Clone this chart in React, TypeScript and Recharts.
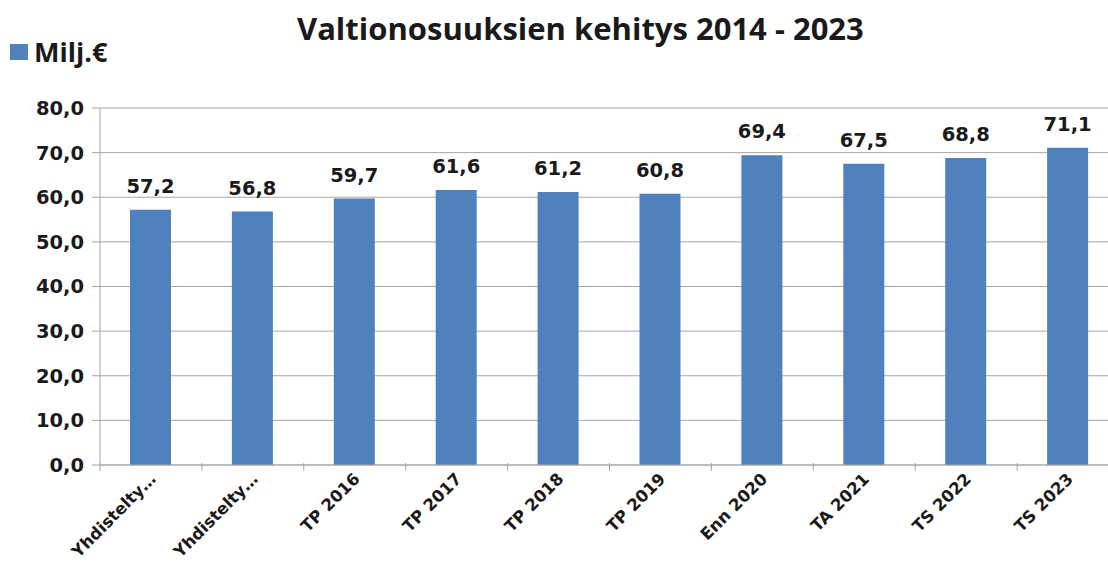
import React from "react";
import {
  BarChart,
  Bar,
  XAxis,
  YAxis,
  CartesianGrid,
  LabelList,
} from "recharts";

const categories = [
  "Yhdistelty…",
  "Yhdistelty…",
  "TP 2016",
  "TP 2017",
  "TP 2018",
  "TP 2019",
  "Enn 2020",
  "TA 2021",
  "TS 2022",
  "TS 2023",
];
const values = [57.2, 56.8, 59.7, 61.6, 61.2, 60.8, 69.4, 67.5, 68.8, 71.1];
const yTicks = [0, 10, 20, 30, 40, 50, 60, 70, 80];

const data = categories.map((c, i) => ({ name: c, value: values[i] }));

const TITLE_FONT = "'Open Sans', sans-serif";
const FONT = "'DejaVu Sans', sans-serif";
const BAR = "#4f81bd";
const GRID = "#a6a6a6";
const TEXT = "#1a1a1a";

const CHART_W = 1130;
const CHART_H = 569;
const MARGIN = { top: 108, right: 11, bottom: 0, left: 10 };
const Y_W = 90;
const X_H = 104;
const BAND = (CHART_W - MARGIN.left - MARGIN.right - Y_W) / categories.length;

const fmt = (v: number) => v.toFixed(1).replace(".", ",");

const XTick = (props: any) => {
  const { x, y, payload } = props;
  const lx = x - BAND / 2;
  const ax = x + 6;
  const ay = y + 7;
  return (
    <g>
      <line x1={lx} y1={y - 10} x2={lx} y2={y - 2} stroke={GRID} />
      <text
        x={ax}
        y={ay}
        transform={`rotate(-45 ${ax} ${ay})`}
        textAnchor="end"
        fontFamily={FONT}
        fontWeight="bold"
        fontSize={16.5}
        fill={TEXT}
      >
        {payload.value}
      </text>
    </g>
  );
};

export default function App() {
  return (
    <div
      style={{
        position: "absolute",
        left: 0,
        top: 0,
        width: 1108,
        height: 569,
        overflow: "hidden",
        background: "#fff",
      }}
    >
      <div
        style={{
          position: "absolute",
          left: 297,
          top: 7,
          whiteSpace: "nowrap",
          fontFamily: TITLE_FONT,
          fontWeight: "bold",
          fontSize: 31,
          color: TEXT,
        }}
      >
        Valtionosuuksien kehitys 2014 - 2023
      </div>
      <div
        style={{
          position: "absolute",
          left: 10,
          top: 33,
          display: "flex",
          alignItems: "center",
          fontFamily: TITLE_FONT,
          fontWeight: "bold",
          fontSize: 27,
          color: TEXT,
        }}
      >
        <span
          style={{
            display: "inline-block",
            width: 18,
            height: 16,
            background: BAR,
            marginRight: 6,
          }}
        />
        Milj.€
      </div>
      <BarChart
        width={CHART_W}
        height={CHART_H}
        data={data}
        margin={MARGIN}
        barSize={41}
        style={{ position: "absolute", left: 0, top: 0 }}
      >
        <CartesianGrid vertical={false} stroke={GRID} />
        <XAxis
          dataKey="name"
          height={X_H}
          interval={0}
          stroke={GRID}
          tickLine={false}
          tick={<XTick />}
        />
        <YAxis
          width={Y_W}
          domain={[0, 80]}
          ticks={yTicks}
          stroke={GRID}
          tickSize={8}
          tickMargin={8}
          tickFormatter={fmt}
          tick={{
            fontFamily: FONT,
            fontWeight: "bold",
            fontSize: 19.5,
            fill: TEXT,
          }}
        />
        <Bar dataKey="value" fill={BAR} isAnimationActive={false}>
          <LabelList
            dataKey="value"
            position="top"
            offset={17}
            formatter={(v: any) => fmt(Number(v))}
            style={{
              fontFamily: FONT,
              fontWeight: "bold",
              fontSize: 19.5,
              fill: TEXT,
            }}
          />
        </Bar>
      </BarChart>
    </div>
  );
}
